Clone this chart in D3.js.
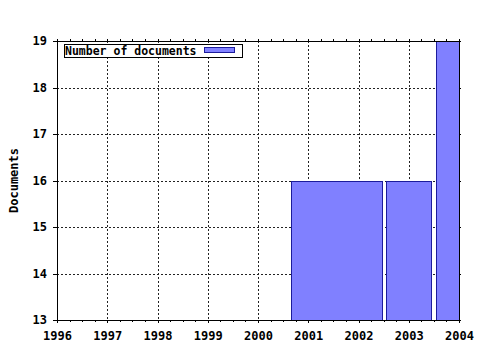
<!DOCTYPE html>
<html>
<head>
<meta charset="utf-8">
<script src="https://cdn.jsdelivr.net/npm/d3@7"></script>
<style>
html,body{margin:0;padding:0;background:#fff;}
text{font-family:"DejaVu Sans Mono",monospace;font-weight:bold;fill:#000;}
</style>
</head>
<body>
<svg id="chart" width="480" height="350"></svg>
<script>
// Data (in data units)
const seriesName = "Number of documents";
const binStart = [2000.66, 2002.55, 2003.54];
const binEnd   = [2002.47, 2003.45, 2004.46];
const counts   = [16, 16, 19];
const xTicks = [1996, 1997, 1998, 1999, 2000, 2001, 2002, 2003, 2004];
const yTicks = [13, 14, 15, 16, 17, 18, 19];
const yLabel = "Documents";

(function () {
const svg = d3.select("#chart");
const pL = 57, pR = 459, pT = 41, pB = 320;
const x = d3.scaleLinear().domain([1996, 2004]).range([pL, pR]);
const y = d3.scaleLinear().domain([13, 19]).range([pB, pT]);

// grid
const grid = svg.append("g").attr("stroke", "#222").attr("stroke-dasharray", "2,2").attr("shape-rendering", "crispEdges");
xTicks.slice(1, -1).forEach(t => {
  grid.append("line").attr("x1", Math.round(x(t)) + 0.5).attr("x2", Math.round(x(t)) + 0.5).attr("y1", pT).attr("y2", pB);
});
yTicks.slice(1, -1).forEach(t => {
  grid.append("line").attr("y1", Math.round(y(t)) + 0.5).attr("y2", Math.round(y(t)) + 0.5).attr("x1", pL).attr("x2", pR);
});

// bars (clipped to plot area)
svg.append("clipPath").attr("id", "clip").append("rect")
  .attr("x", pL).attr("y", pT).attr("width", pR - pL + 1).attr("height", pB - pT);
const bars = svg.append("g").attr("clip-path", "url(#clip)").attr("shape-rendering", "crispEdges");
counts.forEach((c, i) => {
  const x0 = Math.round(x(binStart[i])), x1 = Math.round(x(binEnd[i]));
  const yt = Math.round(y(c));
  bars.append("rect")
    .attr("x", x0 + 0.5).attr("y", yt + 0.5)
    .attr("width", x1 - x0).attr("height", pB - yt)
    .attr("fill", "#8080ff").attr("stroke", "#1c1c9c").attr("stroke-width", 1);
});

// axes
const xMinor = d3.range(1996, 2004.001, 0.25);
const gB = svg.append("g").attr("transform", `translate(0,${pB})`).attr("shape-rendering", "crispEdges")
  .call(d3.axisBottom(x).tickValues(xTicks).tickFormat(d3.format("d")).tickSize(3).tickPadding(8));
const gBm = svg.append("g").attr("transform", `translate(0,${pB})`).attr("shape-rendering", "crispEdges")
  .call(d3.axisBottom(x).tickValues(xMinor).tickFormat("").tickSize(2));
const gT = svg.append("g").attr("transform", `translate(0,${pT})`).attr("shape-rendering", "crispEdges")
  .call(d3.axisTop(x).tickValues(xMinor).tickFormat("").tickSize(2));
const gL = svg.append("g").attr("transform", `translate(${pL},0)`).attr("shape-rendering", "crispEdges")
  .call(d3.axisLeft(y).tickValues(yTicks).tickFormat(d3.format("d")).tickSize(4).tickPadding(6));
const gR = svg.append("g").attr("transform", `translate(${pR},0)`).attr("shape-rendering", "crispEdges")
  .call(d3.axisRight(y).tickValues(yTicks).tickFormat("").tickSize(2));

[gB, gBm, gT, gL, gR].forEach(g => {
  g.select(".domain").attr("stroke", "#000");
  g.selectAll(".tick line").attr("stroke", "#000");
  g.selectAll("text").attr("font-family", "DejaVu Sans Mono, monospace").attr("font-weight", "bold").attr("font-size", 12).attr("fill", "#000");
});
gB.select(".domain").attr("d", `M${pL},0.5H${pR}`);
gBm.select(".domain").remove();
gT.select(".domain").attr("d", `M${pL},0.5H${pR}`);
gL.select(".domain").attr("d", `M0.5,${pT}V${pB}`);
gR.select(".domain").attr("d", `M0.5,${pT}V${pB}`);

// y label
svg.append("text")
  .attr("transform", `translate(18,${(pT + pB) / 2}) rotate(-90)`)
  .attr("text-anchor", "middle")
  .attr("font-size", 12)
  .text(yLabel);

// legend
const lg = svg.append("g").attr("shape-rendering", "crispEdges");
lg.append("rect").attr("x", 64.5).attr("y", 44.5).attr("width", 178).attr("height", 13)
  .attr("fill", "#fff").attr("stroke", "#000");
lg.append("text").attr("x", 65).attr("y", 55).attr("font-size", 11.5).text(seriesName);
lg.append("rect").attr("x", 204.5).attr("y", 47.5).attr("width", 30).attr("height", 5)
  .attr("fill", "#8080ff").attr("stroke", "#1c1c9c");
})();
</script>
</body>
</html>
